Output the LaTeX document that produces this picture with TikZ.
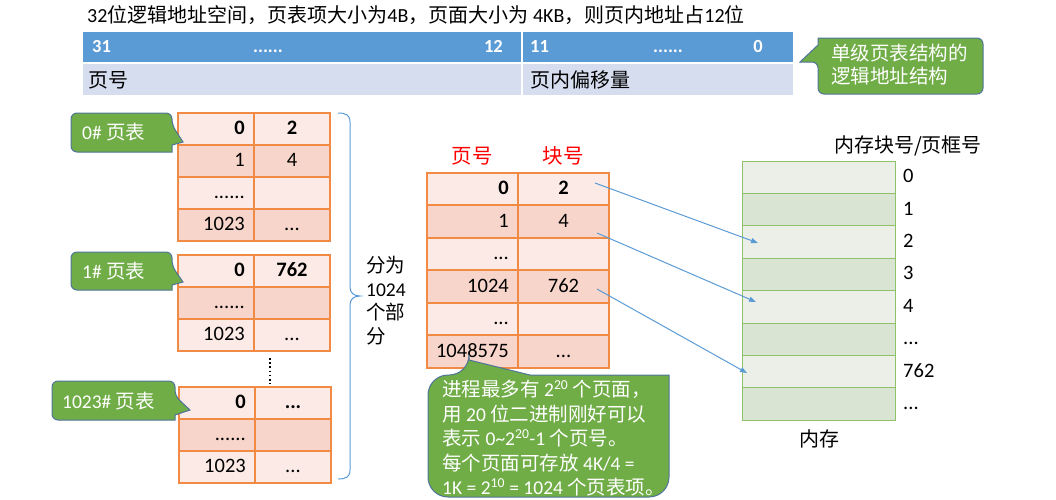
\documentclass[tikz,border=0pt]{standalone}
\usepackage{fontspec}
\setmainfont{Carlito}
\newfontfamily\cjkf{Noto Sans CJK SC}
\newcommand\zh[1]{{\cjkf #1}}
\newcommand\fs[1]{\fontsize{#1}{#1}\selectfont}
\newcommand\tdots{...}
\usetikzlibrary{arrows.meta}
\definecolor{barblue}{HTML}{5B9BD5}
\definecolor{barlight}{HTML}{D5DDEF}
\definecolor{tborder}{HTML}{F08A45}
\definecolor{rowA}{HTML}{FBEAE5}
\definecolor{rowB}{HTML}{F7D5CA}
\definecolor{cgreen}{HTML}{70AD47}
\definecolor{cborder}{HTML}{4F7499}
\definecolor{memA}{HTML}{EBEFE8}
\definecolor{memB}{HTML}{DAE4D3}
\definecolor{memborder}{HTML}{8DC26A}
\definecolor{arrc}{HTML}{5B9BD5}
\tikzset{
  num/.style={inner sep=0pt, text height=12pt, text depth=1pt, font=\fs{20.5}},
  bartxt/.style={inner sep=0pt, text height=12pt, text depth=1pt, font=\fs{18.5}\bfseries, text=white},
  ctext/.style={inner sep=0pt, text=white, font=\fs{19.5}},
  callout/.style={fill=cgreen, draw=cborder, line width=1pt},
  cellbox/.style={fill=#1, draw=tborder, line width=1.2pt},
  memcell/.style={fill=#1, draw=memborder, line width=1pt, minimum width=153pt, minimum height=32.4pt, inner sep=0pt},
  link/.style={draw=arrc, line width=1pt, -{Triangle[length=7pt,width=5pt]}},
}
\newcommand\prow[9]{%
  \filldraw[cellbox=#7] (#2,#5) rectangle (#3,#6);
  \filldraw[cellbox=#7] (#3,#5) rectangle (#4,#6);
  \node[num, anchor=east] (#1l) at (#3-9,{(#5+#6)/2}) {#8};
  \node[num] (#1r) at ({(#3+#4)/2},{(#5+#6)/2}) {#9};
}
\begin{document}
\begin{tikzpicture}[x=1pt,y=-1pt]
\useasboundingbox (0,0) rectangle (1056,499);

% title
\node[anchor=west, inner sep=0pt, font=\fs{20}] (title) at (87,15)
  {32\zh{位逻辑地址空间，页表项大小为}4B\zh{，页面大小为} 4KB\zh{，则页内地址占}12\zh{位}};

% address bar
\fill[barblue] (83,32) rectangle (793,62);
\fill[barlight] (83,64) rectangle (793,95);
\draw[white, line width=1.5pt] (522,32) -- (522,95);
\node[bartxt, anchor=west] (b31) at (92,47) {31};
\node[bartxt] (bd1) at (268,47) {......};
\node[bartxt, anchor=east] (b12) at (503,47) {12};
\node[bartxt, anchor=west] (b11) at (530,47) {11};
\node[bartxt] (bd2) at (668,47) {......};
\node[bartxt, anchor=east] (b0) at (763,47) {0};
\node[anchor=west, inner sep=0pt, font=\fs{20}] (pn) at (88,80) {\zh{页号}};
\node[anchor=west, inner sep=0pt, font=\fs{20}] (po) at (530,80) {\zh{页内偏移量}};

% top-right callout
\draw[callout] (900,38) [rounded corners=6pt] -- (983,38) -- (983,94) -- (818,94) -- (818,62) [sharp corners] -- (800,62) -- (818,45) -- (818,38) [rounded corners=6pt] -- cycle;
\node[ctext, anchor=north west, align=left, font=\fontsize{19.5}{23}\selectfont] (ctr) at (831,44) {\zh{单级页表结构的}\\\zh{逻辑地址结构}};

% page table 0#
\prow{a1}{178}{254}{330}{113}{145}{rowA}{\textbf{0}}{\textbf{2}}
\prow{a2}{178}{254}{330}{145}{177}{rowB}{1}{4}
\prow{a3}{178}{254}{330}{177}{209}{rowA}{......}{}
\prow{a4}{178}{254}{330}{209}{241}{rowB}{1023}{...}
% page table 1#
\prow{b1}{178}{254}{330}{255}{287}{rowA}{\textbf{0}}{\textbf{762}}
\prow{b2}{178}{254}{330}{287}{319}{rowB}{......}{}
\prow{b3}{178}{254}{330}{319}{351}{rowA}{1023}{...}
% vertical dots
\draw[line width=2pt, dash pattern=on 1.6pt off 2.6pt] (270,358) -- (270,384);
% page table 1023#
\prow{c1}{179}{255}{331}{387}{419}{rowA}{\textbf{0}}{\textbf{...}}
\prow{c2}{179}{255}{331}{419}{451}{rowB}{......}{}
\prow{c3}{179}{255}{331}{451}{483}{rowA}{1023}{...}

% callouts of the page tables
\draw[callout] (71,132) [rounded corners=6pt] -- (71,113) -- (172,113) -- (172,125) [sharp corners] -- (183,142) -- (172,145) -- (172,152) [rounded corners=6pt] -- (71,152) -- cycle;
\node[ctext, anchor=west] (k0) at (82,132) {0\# \zh{页表}};
\draw[callout] (71,271) [rounded corners=6pt] -- (71,252) -- (172,252) -- (172,266) [sharp corners] -- (183,282) -- (172,285) -- (172,290) [rounded corners=6pt] -- (71,290) -- cycle;
\node[ctext, anchor=west] (k1) at (82,271) {1\# \zh{页表}};
\draw[callout] (52,400) [rounded corners=6pt] -- (52,381) -- (175,381) -- (175,396) [sharp corners] -- (190,410) -- (175,415) -- (175,420) [rounded corners=6pt] -- (52,420) -- cycle;
\node[ctext, anchor=west] (k2) at (62,401) {1023\# \zh{页表}};

% brace
\draw[arrc, line width=1pt] (338,113) .. controls (346,113) and (350,115) .. (350,122) -- (350,287)
  .. controls (350,293) and (354,296) .. (360,296) .. controls (354,296) and (350,299) .. (350,305)
  -- (350,470) .. controls (350,477) and (346,479) .. (338,479);
\node[anchor=north west, align=left, inner sep=0pt, font=\fontsize{19.5}{23.5}\selectfont] (brtxt) at (366,256)
  {\zh{分为}\\1024\\\zh{个部}\\\zh{分}};

% middle page table
\node[num, text=red] (hp) at (472,158) {\zh{页号}};
\node[num, text=red] (hb) at (563,158) {\zh{块号}};
\prow{m1}{427}{518}{609}{173}{205}{rowA}{\textbf{0}}{\textbf{2}}
\prow{m2}{427}{518}{609}{205}{238}{rowB}{1}{4}
\prow{m3}{427}{518}{609}{238}{270}{rowA}{...}{}
\prow{m4}{427}{518}{609}{270}{303}{rowB}{1024}{762}
\prow{m5}{427}{518}{609}{303}{335}{rowA}{...}{}
\prow{m6}{427}{518}{609}{335}{368}{rowB}{1048575}{...}

% middle callout
\draw[callout] (428,436) [rounded corners=20pt] -- (428,375) -- (469,375) [sharp corners] -- (469,360) -- (530,375) -- (669,375) [rounded corners=20pt] -- (669,497) -- (428,497) -- cycle;
\node[ctext, anchor=north west, align=left, font=\fontsize{19.5}{24.5}\selectfont] (cm) at (442,380)
  {\zh{进程最多有} 2\textsuperscript{20} \zh{个页面，}\\
   \zh{用} 20 \zh{位二进制刚好可以}\\
   \zh{表示} 0\textasciitilde 2\textsuperscript{20}-1 \zh{个页号。}\\
   \zh{每个页面可存放} 4K/4 =\\
   1K = 2\textsuperscript{10} = 1024 \zh{个页表项。}};

% memory
\node[num, font=\fs{20}] (memtitle) at (908,147) {\zh{内存块号/页框号}};
\foreach \i/\lab/\c in {0/0/memA,1/1/memB,2/2/memA,3/3/memB,4/4/memA,5/\tdots/memB,6/762/memA,7/\tdots/memB} {
  \node[memcell=\c] (mem\i) at (818.5,{161+32.4*\i+16.2}) {};
  \node[num, anchor=west] (ml\i) at (903,{161+32.4*\i+16.2}) {\lab};
}
\node[num, font=\fs{20}] (memname) at (819,441) {\zh{内存}};

% arrows
\coordinate (s0) at (595,183);
\coordinate (s1) at (597,233);
\coordinate (s2) at (597,289);
\coordinate (t0) at (758,243);
\coordinate (t1) at (756,302);
\coordinate (t2) at (747,373);
\draw[link] (s0) -- (t0);
\draw[link] (s1) -- (t1);
\draw[link] (s2) -- (t2);
\end{tikzpicture}
\end{document}
